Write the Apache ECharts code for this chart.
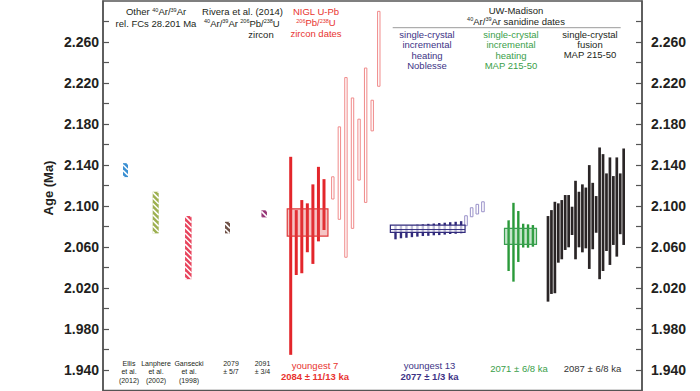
<!DOCTYPE html>
<html><head><meta charset="utf-8">
<script src="https://cdn.jsdelivr.net/npm/echarts@6/dist/echarts.min.js"></script>
<style>html,body{margin:0;padding:0;background:#fff}#c{width:700px;height:391px}</style>
</head><body><div id="c"></div>
<script>
// ================= DATA (ages in Ma) =================
// Other 40Ar/39Ar + Rivera et al. (2014)
const refLabels = ['Ellis\net al.\n(2012)', 'Lanphere\net al.\n(2002)', 'Gansecki\net al.\n(1998)', '2079\n± 5/7', '2091\n± 3/4'];
const refLow  = [2.1282, 2.0733, 2.0286, 2.0733, 2.0889];
const refHigh = [2.1418, 2.1139, 2.0902, 2.0846, 2.0958];

// NIGL U-Pb zircon dates
const uPbYoungLow  = [1.9548, 2.0327, 2.0344, 2.0549, 2.0435, 2.0655, 2.0766];
const uPbYoungHigh = [2.1480, 2.0960, 2.1058, 2.1026, 2.1211, 2.1382, 2.1262];
const uPbOlderLow  = [2.1068, 2.0870, 2.0500, 2.0782, 2.1253, 2.1035, 2.1733, 2.2168];
const uPbOlderHigh = [2.1285, 2.1772, 2.2253, 2.2054, 2.1847, 2.2346, 2.2032, 2.2899];
const uPbMean = [2.0707, 2.0840, 2.0972];          // low, mean, high

// UW-Madison single-crystal incremental heating, Noblesse
const nobLow  = [2.0675, 2.0685, 2.0690, 2.0696, 2.0701, 2.0707, 2.0709, 2.0714, 2.0716, 2.0721, 2.0727, 2.0729, 2.0734];
const nobHigh = [2.0806, 2.0808, 2.0811, 2.0814, 2.0818, 2.0821, 2.0826, 2.0829, 2.0834, 2.0837, 2.0842, 2.0846, 2.0852];
const nobOldLow  = [2.0808, 2.0895, 2.0922, 2.0944];
const nobOldHigh = [2.0905, 2.0983, 2.1016, 2.1041];
const nobMean = [2.0743, 2.0770, 2.0814];

// UW-Madison single-crystal incremental heating, MAP 215-50
const mihLow  = [2.0366, 2.0262, 2.0454, 2.0595, 2.0593, 2.0603];
const mihHigh = [2.0860, 2.1031, 2.0951, 2.0827, 2.0821, 2.0814];
const mihMean = [2.0626, 2.0710, 2.0782];

// UW-Madison single-crystal fusion, MAP 215-50
const fusLow  = [2.0067, 2.0142, 2.0149, 2.0447, 2.0480, 2.0571, 2.0597, 2.0717, 2.0480, 2.0597, 2.0548, 2.0587, 2.0386, 2.0578, 2.0739, 2.0286, 2.0366, 2.0561, 2.0425, 2.0620, 2.0506, 2.0725, 2.0620];
const fusHigh = [2.0902, 2.0960, 2.1041, 2.1026, 2.1058, 2.1107, 2.1107, 2.0993, 2.1246, 2.1139, 2.1211, 2.1180, 2.1399, 2.1226, 2.1097, 2.1571, 2.1506, 2.1318, 2.1474, 2.1292, 2.1474, 2.1318, 2.1561];

// axis
const yMin = 1.92, yMax = 2.30, yStep = 0.02;

// ================= LAYOUT / STYLE =================
const FONT = '"Liberation Sans", Arial, sans-serif';
const layout = {
  refX: [125.5, 155.7, 188.3, 227.5, 264.2], refW: [5, 6, 6.5, 5, 5.5],
  young: {x0: 290.7, step: 5.55, w: 3},
  older: {x0: 332.8, step: 6.57, w: 2.4},
  uPbBox: {x: 307.6, w: 40.7},
  nob: {x0: 395.5, step: 5.47, w: 2.4},
  nobOld: {x0: 466, step: 5.65, w: 2.6},
  nobBox: {x: 427.7, w: 74.7},
  mih: {x0: 508.6, step: 4.86, w: 2.4},
  mihBox: {x: 520.5, w: 32},
  fus: {x0: 548, step: 3.44, w: 2.7}
};
const refColors = ['#3a8fd2', '#9db050', '#e8435c', '#6e5046', '#963476'];
const C = {red: '#e3262b', pink: '#f08a8a', blue: '#312a7c', lilac: '#9a92c9', green: '#2a9a3a', black: '#2a2526', text: '#231f20', blueText: '#3d3386', greenText: '#3aa04a', redText: '#e8332f'};

function hatched(rect, color) {
  const children = [{type: 'rect', shape: rect, style: {fill: color}}];
  const d = 5.6, x0 = rect.x, y0 = rect.y, w = rect.width, h = rect.height;
  for (let c = y0 - (x0 + w) + 1; c <= y0 + h - x0; c += d) {
    const xa = Math.max(x0, y0 - c), xb = Math.min(x0 + w, y0 + h - c);
    if (xb > xa) children.push({type: 'line', shape: {x1: xa, y1: xa + c, x2: xb, y2: xb + c}, style: {stroke: '#fff', lineWidth: 1.5}});
  }
  return {type: 'group', children};
}

function rangeSeries(xs, lows, highs, widths, draw, z) {
  return {
    type: 'custom', z: z || 2, clip: false, animation: false,
    data: lows.map((lo, i) => [xs[i], lo, highs[i], i]),
    encode: {x: 0, y: [1, 2]},
    renderItem: (params, api) => {
      const x = api.value(0), lo = api.value(1), hi = api.value(2), i = api.value(3);
      const t = api.coord([x, hi]), b = api.coord([x, lo]);
      const w = api.size([Array.isArray(widths) ? widths[i] : widths, 0])[0];
      return draw({x: t[0] - w / 2, y: t[1], width: w, height: b[1] - t[1]}, i);
    }
  };
}
function seq(n, g) { return Array.from({length: n}, (_, i) => g.x0 + i * g.step); }

function meanBox(box, vals, stroke, fill, withLine, z) {
  return {
    type: 'custom', z: z || 5, clip: false, animation: false,
    data: [[box.x, vals[0], vals[2], vals[1]]],
    encode: {x: 0, y: [1, 2]},
    renderItem: (params, api) => {
      const x = api.value(0);
      const t = api.coord([x, api.value(2)]), b = api.coord([x, api.value(1)]), m = api.coord([x, api.value(3)]);
      const w = api.size([box.w, 0])[0];
      const ch = [{type: 'rect', shape: {x: t[0] - w / 2, y: t[1], width: w, height: b[1] - t[1]}, style: {fill, stroke, lineWidth: 1.2}}];
      if (withLine) ch.push({type: 'line', shape: {x1: t[0] - w / 2, y1: m[1], x2: t[0] + w / 2, y2: m[1]}, style: {stroke, lineWidth: 1}});
      return {type: 'group', children: ch};
    }
  };
}

const series = [
  rangeSeries(layout.refX, refLow, refHigh, layout.refW, (r, i) => hatched(r, refColors[i])),
  rangeSeries(seq(7, layout.young), uPbYoungLow, uPbYoungHigh, layout.young.w, r => ({type: 'rect', shape: r, style: {fill: C.red}})),
  rangeSeries(seq(8, layout.older), uPbOlderLow, uPbOlderHigh, layout.older.w, r => ({type: 'rect', shape: r, style: {fill: '#fff', stroke: C.pink, lineWidth: 1}})),
  meanBox(layout.uPbBox, uPbMean, '#e0393a', 'rgba(225,70,70,0.32)', false),
  rangeSeries(seq(13, layout.nob), nobLow, nobHigh, layout.nob.w, r => ({type: 'rect', shape: r, style: {fill: C.blue}})),
  meanBox(layout.nobBox, nobMean, C.blue, 'rgba(255,255,255,0.7)', true),
  rangeSeries(seq(4, layout.nobOld), nobOldLow, nobOldHigh, layout.nobOld.w, r => ({type: 'rect', shape: r, style: {fill: '#fff', stroke: C.lilac, lineWidth: 1}})),
  rangeSeries(seq(6, layout.mih), mihLow, mihHigh, layout.mih.w, r => ({type: 'rect', shape: r, style: {fill: C.green}})),
  meanBox(layout.mihBox, mihMean, '#3a9f50', 'rgba(70,170,90,0.32)', false),
  rangeSeries(seq(23, layout.fus), fusLow, fusHigh, layout.fus.w, r => ({type: 'rect', shape: r, style: {fill: C.black}}))
];

// ================= TEXT =================
function T(x, y, text, o) {
  return {type: 'text', x, y, z: 10, style: Object.assign({text, fill: C.text, fontSize: 9.5, fontFamily: FONT, align: 'center', verticalAlign: 'middle', lineHeight: 10.3}, o || {})};
}
const supRich = {s: {fontSize: 5.5, lineHeight: 4, verticalAlign: 'top', fontFamily: FONT}};
const R = (o) => Object.assign({rich: supRich, lineHeight: 10}, o || {});
const graphics = [
  T(156, 11.5, 'Other {s|40}Ar/{s|39}Ar', R()),
  T(156, 23, 'rel. FCs 28.201 Ma'),
  T(242.5, 11.5, 'Rivera et al. (2014)'),
  T(221, 23, '{s|40}Ar/{s|39}Ar', R()),
  T(260, 23, '{s|206}Pb/{s|238}U', R()),
  T(261, 34, 'zircon'),
  T(316, 11.5, 'NIGL U-Pb', {fill: C.redText}),
  T(316, 22.5, '{s|206}Pb/{s|238}U', R({fill: C.redText, rich: {s: Object.assign({}, supRich.s, {fill: C.redText})}})),
  T(316, 33.5, 'zircon dates', {fill: C.redText}),
  T(516, 10, 'UW-Madison'),
  T(516, 21, '{s|40}Ar/{s|39}Ar sanidine dates', R()),
  {type: 'line', z: 10, shape: {x1: 392.7, y1: 27.7, x2: 620.7, y2: 27.7}, style: {stroke: '#9a9a9a', lineWidth: 1}},
  T(427, 50, 'single-crystal\nincremental\nheating\nNoblesse', {fill: C.blueText}),
  T(511, 50, 'single-crystal\nincremental\nheating\nMAP 215-50', {fill: C.greenText}),
  T(590, 44.5, 'single-crystal\nfusion\nMAP 215-50'),
  T(48, 188, 'Age (Ma)', {fontSize: 13, fontWeight: 'bold'})
];
graphics[graphics.length - 1].rotation = Math.PI / 2;
const refLabelX = [129, 156, 189, 231, 262.5];
refLabels.forEach((t, i) => {
  const lines = t.split('\n').length;
  graphics.push(T(refLabelX[i], lines === 3 ? 371.7 : 367.5, t, {fontSize: 7, lineHeight: 8.4}));
});
graphics.push(
  T(315, 365.7, 'youngest 7', {fill: C.redText}),
  T(315, 376, '2084 ± 11/13 ka', {fill: C.redText, fontWeight: 'bold'}),
  T(429.5, 365.7, 'youngest 13', {fill: C.blueText}),
  T(429.5, 376, '2077 ± 1/3 ka', {fill: C.blueText, fontWeight: 'bold'}),
  T(519, 368.3, '2071 ± 6/8 ka', {fill: C.greenText}),
  T(592.5, 368.3, '2087 ± 6/8 ka', {fill: '#333'})
);

// ================= CHART =================
const labelFmt = v => {
  const k = Math.round(v * 100);
  return (k % 4 === 2 && v < 2.29) ? v.toFixed(3) : '';
};
const yAxisBase = (pos, margin) => ({
  type: 'value', min: yMin, max: yMax, interval: yStep, position: pos,
  axisLine: {show: true, lineStyle: {color: '#555', width: 1.5}},
  axisTick: {show: true, inside: true, length: 6, lineStyle: {color: '#555', width: 1.2}},
  axisLabel: {formatter: labelFmt, margin, fontSize: 14, fontWeight: 'bold', color: C.text, fontFamily: FONT, showMinLabel: false, showMaxLabel: false},
  splitLine: {show: false}
});

const chart = echarts.init(document.getElementById('c'), null, {renderer: 'svg'});
chart.setOption({
  animation: false,
  backgroundColor: '#fff',
  grid: {left: 103, right: 58, top: 1, bottom: 0.5, show: true, borderColor: '#555', borderWidth: 1.5, backgroundColor: 'transparent'},
  xAxis: {type: 'value', min: 103, max: 642, show: false},
  yAxis: [yAxisBase('left', 4), yAxisBase('right', 9)],
  series,
  graphic: graphics
});
</script></body></html>
